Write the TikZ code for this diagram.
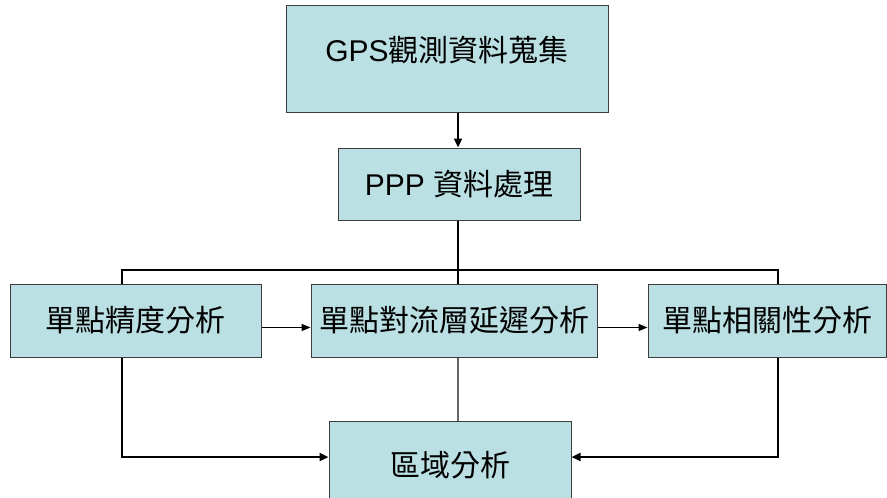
\documentclass[tikz,border=0pt]{standalone}
\usepackage{fontspec}
\setmainfont{Liberation Sans}
\newfontfamily\cjk{Noto Sans CJK TC}
\usetikzlibrary{arrows.meta}
\definecolor{boxfill}{RGB}{187,224,227}
\definecolor{boxline}{RGB}{60,60,60}
\tikzset{
  box/.style={draw=boxline, line width=1pt, fill=boxfill, inner sep=0pt,
    font=\fontsize{30}{36}\selectfont, align=center},
  conn/.style={line width=2.5pt, draw=black},
  tip/.style={-{Triangle[length=9pt,width=8pt]}},
  thinarr/.style={line width=1.5pt, draw=black, -{Triangle[length=9pt,width=7pt]}},
  grayline/.style={line width=1.3pt, draw=black!60}
}
\begin{document}
\begin{tikzpicture}[x=1pt,y=1pt]
\useasboundingbox (0,0) rectangle (887,-498);
% boxes
\node[box, minimum width=322pt, minimum height=107pt] (gps) at (447,-58.5) {};
\node[font=\fontsize{30}{36}\selectfont, inner sep=0pt] (gpst) at (447,-50) {GPS{\cjk 觀測資料蒐集}};
\node[box, minimum width=242pt, minimum height=72pt] (ppp) at (459,-184) {PPP {\cjk 資料處理}};
\node[box, minimum width=251pt, minimum height=73pt] (s1) at (135.5,-320.5) {\cjk 單點精度分析};
\node[box, minimum width=286pt, minimum height=73pt] (s4) at (454,-320.5) {\cjk 單點對流層延遲分析};
\node[box, minimum width=238pt, minimum height=73pt] (s5) at (767,-320.5) {\cjk 單點相關性分析};
\node[box, minimum width=242pt, minimum height=89pt] (rg) at (450,-465.5) {\cjk 區域分析};
% coordinates
\coordinate (bl) at (122,-270);
\coordinate (bm) at (458,-270);
\coordinate (br) at (778,-270);
\coordinate (low) at (0,-457);
% connectors
\draw[conn, tip] (gps.south -| bm) -- (ppp.north -| bm);
\draw[conn] (ppp.south -| bm) -- (bm);
\draw[conn] (bl |- s1.north) -- (bl) -- (br) -- (br |- s5.north);
\draw[conn] (bm) -- (bm |- s4.north);
\draw[thinarr] ([yshift=-7pt]s1.east) -- ([yshift=-7pt]s4.west);
\draw[thinarr] ([yshift=-7pt]s4.east) -- ([yshift=-7pt]s5.west);
\draw[grayline] (bm |- s4.south) -- (bm |- rg.north);
\draw[conn, tip] (bl |- s1.south) -- (bl |- low) -- (rg.west |- low);
\draw[conn, tip] (br |- s5.south) -- (br |- low) -- (rg.east |- low);
\end{tikzpicture}
\end{document}
